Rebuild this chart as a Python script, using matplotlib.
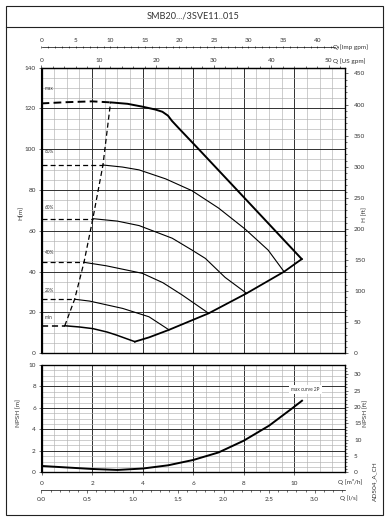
"""Pump curve sheet SMB20.../3SVE11..015: head and NPSH versus flow."""

import matplotlib

matplotlib.use("Agg")
import matplotlib.pyplot as plt
from matplotlib.lines import Line2D
from matplotlib.patches import Rectangle
from matplotlib.ticker import FormatStrFormatter, MultipleLocator

plt.rcParams["font.family"] = ["Lato", "DejaVu Sans"]

TITLE = "SMB20.../3SVE11..015"

# head curves, Q in m3/h, H in m
q_max_dash = [0.0, 1.0, 2.0, 2.73]
h_max_dash = [122.5, 123.1, 123.5, 123.0]
q_max = [2.73, 3.4, 3.99, 4.5, 4.78, 5.0, 5.16, 5.43, 6.22, 8.0, 10.29]
h_max = [123.0, 122.3, 120.9, 119.5, 118.4, 116.5, 113.9, 110.3, 100.0, 76.5, 46.2]

q_80 = [2.43, 3.2, 3.86, 4.91, 5.95, 7.0, 8.05, 8.96, 9.59]
h_80 = [92.3, 91.3, 89.9, 85.5, 79.7, 71.2, 60.9, 50.6, 40.0]
q_60 = [2.03, 3.0, 3.86, 5.17, 5.95, 6.48, 7.26, 8.11]
h_60 = [66.0, 64.8, 62.6, 56.4, 50.6, 46.5, 37.2, 29.4]
q_40 = [1.68, 2.56, 3.99, 4.8, 5.56, 6.61]
h_40 = [44.6, 42.9, 39.2, 34.6, 28.6, 19.6]
q_20 = [1.31, 1.9, 3.21, 4.25, 5.04]
h_20 = [26.5, 25.6, 22.0, 17.9, 11.5]
q_min = [0.92, 1.5, 2.03, 2.6, 2.95, 3.69]
h_min = [13.5, 12.9, 12.1, 10.4, 9.0, 5.7]

# right-hand limit of the working field
q_end = [3.69, 4.25, 5.04, 6.61, 8.11, 9.59, 10.29]
h_end = [5.7, 7.8, 11.5, 19.6, 29.4, 40.0, 46.2]
# left-hand dashed limit
q_left = [0.92, 1.31, 1.68, 2.03, 2.43, 2.73]
h_left = [13.5, 26.5, 44.6, 66.0, 92.3, 123.0]

speed_labels = ["max", "80%", "60%", "40%", "20%", "min"]
speed_label_h = [129.9, 98.8, 71.4, 49.5, 31.0, 17.6]

# NPSH, m
q_npsh = [0, 1, 2, 3, 4, 5, 6, 7, 8, 9, 9.91, 10.3]
npsh = [0.59, 0.45, 0.31, 0.22, 0.35, 0.65, 1.15, 1.85, 2.95, 4.35, 5.96, 6.67]

W, H = 389, 523
M3H_TO_USGPM = 4.40287
M3H_TO_IMPGPM = 3.66615
FT = 0.3048
TXT = "#333333"
FS = 4.6


def fx(px):
    return px / W


def fy(py):
    return 1 - py / H


def style_grid(ax, ymajor, yminor):
    ax.set_xlim(0, 12)
    ax.set_xticks([0, 2, 4, 6, 8, 10])
    ax.xaxis.set_minor_locator(MultipleLocator(0.5))
    ax.yaxis.set_major_locator(MultipleLocator(ymajor))
    ax.yaxis.set_minor_locator(MultipleLocator(yminor))
    ax.grid(which="minor", color="#b2b2b2", lw=0.45)
    ax.grid(which="major", color="#303030", lw=0.7)
    ax.set_axisbelow(True)
    ax.tick_params(which="major", labelsize=FS, length=2, width=0.5, colors=TXT, pad=2)
    ax.tick_params(which="minor", length=0)
    for sp in ax.spines.values():
        sp.set_linewidth(0.9)


def ft_axis(ax, top_m, step):
    axr = ax.twinx()
    axr.set_ylim(0, top_m / FT)
    axr.yaxis.set_major_locator(MultipleLocator(step))
    axr.yaxis.set_minor_locator(MultipleLocator(step / 5))
    axr.tick_params(which="major", labelsize=FS, length=2.5, width=0.5, colors=TXT, pad=4)
    axr.tick_params(which="minor", length=1.2, width=0.4)
    return axr


fig = plt.figure(figsize=(W / 100, H / 100), dpi=100)

# sheet frame and title
fig.add_artist(Rectangle((fx(6), fy(515)), fx(377), (515 - 6) / H,
                         transform=fig.transFigure, fill=False, lw=0.8, color="#222"))
fig.add_artist(Line2D([fx(6), fx(383)], [fy(27.3), fy(27.3)],
                      transform=fig.transFigure, lw=0.8, color="#222"))
fig.text(fx(193), fy(16.5), TITLE, ha="center", va="center", fontsize=6.6, color=TXT)

# head chart
ax = fig.add_axes([fx(41.5), fy(353.3), fx(345 - 41.5), (353.3 - 67.7) / H])
style_grid(ax, 20, 5)
ax.set_ylim(0, 140)
ax.tick_params(axis="x", labelbottom=False, length=0)

ax.plot(q_max_dash, h_max_dash, color="black", lw=1.4, ls=(0, (4, 2.2)))
ax.plot(q_max, h_max, color="black", lw=1.4)
for q, h in [(q_80, h_80), (q_60, h_60), (q_40, h_40), (q_20, h_20)]:
    ax.plot([0, q[0]], [h[0], h[0]], color="black", lw=0.9, ls=(0, (4, 2.5)))
    ax.plot(q, h, color="black", lw=0.8)
ax.plot([0, q_min[0]], [h_min[0], h_min[0]], color="black", lw=1.1, ls=(0, (4, 2.5)))
ax.plot(q_min, h_min, color="black", lw=1.1)
ax.plot(q_end, h_end, color="black", lw=1.3)
ax.plot(q_left, h_left, color="black", lw=0.9, ls=(0, (4, 2.5)))
for name, h in zip(speed_labels, speed_label_h):
    ax.text(0.14, h, name, fontsize=3.4, color=TXT, va="center", ha="left")

axr = ft_axis(ax, 140, 50)

sec_us = ax.secondary_xaxis("top", functions=(lambda q: q * M3H_TO_USGPM,
                                              lambda g: g / M3H_TO_USGPM))
sec_us.set_xticks(range(0, 51, 10))
sec_us.xaxis.set_minor_locator(MultipleLocator(2))
sec_us.tick_params(which="major", labelsize=FS, length=2, width=0.5, colors=TXT, pad=1.5)
sec_us.tick_params(which="minor", length=1.2, width=0.4)

imp_pos = (353.3 - 47) / (353.3 - 67.7)
sec_imp = ax.secondary_xaxis(imp_pos, functions=(lambda q: q * M3H_TO_IMPGPM,
                                                 lambda g: g / M3H_TO_IMPGPM))
sec_imp.set_xticks(range(0, 41, 5))
sec_imp.xaxis.set_minor_locator(MultipleLocator(1))
sec_imp.tick_params(which="major", labelsize=FS, length=2, width=0.5, colors=TXT,
                    pad=2, direction="inout")
sec_imp.tick_params(which="minor", length=1.4, width=0.4, direction="inout")
sec_imp.spines["top"].set_visible(False)
# axis line stops short of the unit label
ax.plot([0, 42.5 / M3H_TO_IMPGPM], [imp_pos, imp_pos], color="black", lw=0.5,
        transform=ax.get_xaxis_transform(), clip_on=False)

fig.text(fx(333), fy(47), "Q [Imp gpm]", fontsize=FS, color=TXT, va="center")
fig.text(fx(333), fy(60.7), "Q [US gpm]", fontsize=FS, color=TXT, va="center")
fig.text(fx(21), fy(213), "H[m]", fontsize=FS, color=TXT, rotation=90, ha="center", va="center")
fig.text(fx(365), fy(215), "H [ft]", fontsize=FS, color=TXT, rotation=90, ha="center", va="center")

# NPSH chart
axn = fig.add_axes([fx(41.5), fy(472.3), fx(345 - 41.5), (472.3 - 365) / H])
style_grid(axn, 2, 0.5)
axn.set_ylim(0, 10)
axn.plot(q_npsh, npsh, color="black", lw=1.4)
axn.text(10.43, 7.74, "max curve 2P", fontsize=3.4, color=TXT, ha="center", va="center",
         bbox=dict(facecolor="white", edgecolor="none", pad=1.5))
axn.tick_params(axis="x", pad=4)

ft_axis(axn, 10, 5)

sec_ls = axn.secondary_xaxis(-(490 - 472.3) / (472.3 - 365),
                             functions=(lambda q: q / 3.6, lambda l: l * 3.6))
sec_ls.set_xticks([0, 0.5, 1.0, 1.5, 2.0, 2.5, 3.0])
sec_ls.xaxis.set_major_formatter(FormatStrFormatter("%.1f"))
sec_ls.xaxis.set_minor_locator(MultipleLocator(0.1))
sec_ls.tick_params(which="major", labelsize=FS, length=2, width=0.5, colors=TXT, pad=3)
sec_ls.tick_params(which="minor", length=1.2, width=0.4)
sec_ls.spines["bottom"].set_linewidth(0.5)

fig.text(fx(338), fy(481.7), "Q [m³/h]", fontsize=FS, color=TXT, va="center")
fig.text(fx(340), fy(498), "Q [l/s]", fontsize=FS, color=TXT, va="center")
fig.text(fx(19), fy(413), "NPSH [m]", fontsize=FS, color=TXT, rotation=90, ha="center", va="center")
fig.text(fx(366), fy(413), "NPSH [ft]", fontsize=FS, color=TXT, rotation=90, ha="center", va="center")
fig.text(fx(375), fy(481), "AD504_A_CH", fontsize=FS, color=TXT, rotation=90, ha="center", va="center")

fig.savefig("out.png", dpi=100)
plt.close(fig)
